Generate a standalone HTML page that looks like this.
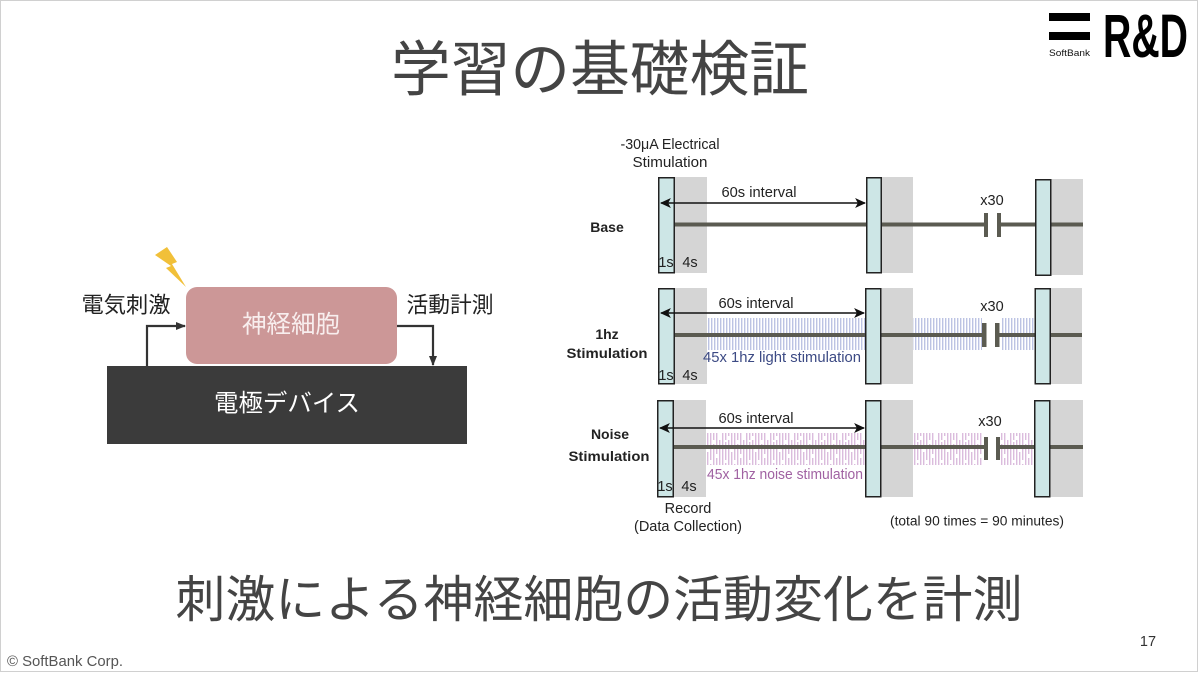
<!DOCTYPE html>
<html><head><meta charset="utf-8"><style>
html,body{margin:0;padding:0;background:#fff;}
svg{display:block;}
.jp{font-family:"Liberation Sans","Noto Sans CJK JP",sans-serif;}
.lt{font-family:"Liberation Sans",sans-serif;}
</style></head><body>
<svg width="1200" height="673" viewBox="0 0 1200 673" xmlns="http://www.w3.org/2000/svg">
<defs>
<pattern id="lp" x="0" y="0" width="3" height="40" patternUnits="userSpaceOnUse">
<rect x="0" y="0" width="1.4" height="40" fill="#bcc3e3"/>
</pattern>
<pattern id="np" x="707" y="0" width="24" height="40" patternUnits="userSpaceOnUse">
<g fill="#dbbcdd">
<rect x="0" y="0" width="1.4" height="9"/><rect x="0" y="12" width="1.4" height="28"/>
<rect x="3" y="0" width="1.4" height="20"/><rect x="3" y="24" width="1.4" height="16"/>
<rect x="6" y="4" width="1.4" height="36"/>
<rect x="9" y="0" width="1.4" height="14"/><rect x="9" y="18" width="1.4" height="10"/><rect x="9" y="31" width="1.4" height="9"/>
<rect x="12" y="0" width="1.4" height="30"/>
<rect x="15" y="0" width="1.4" height="6"/><rect x="15" y="9" width="1.4" height="31"/>
<rect x="18" y="2" width="1.4" height="18"/><rect x="18" y="23" width="1.4" height="17"/>
<rect x="21" y="0" width="1.4" height="25"/><rect x="21" y="28" width="1.4" height="8"/>
</g>
</pattern>
<marker id="ah" viewBox="0 0 10 10" refX="9" refY="5" markerWidth="11" markerHeight="11" orient="auto-start-reverse" markerUnits="userSpaceOnUse">
<path d="M0,0.5 L10,5 L0,9.5 L2.5,5 z" fill="#111"/>
</marker>
<marker id="ah2" viewBox="0 0 10 10" refX="9" refY="5" markerWidth="10" markerHeight="10" orient="auto" markerUnits="userSpaceOnUse">
<path d="M0,1 L10,5 L0,9 z" fill="#333"/>
</marker>
</defs>

<!-- frame -->
<rect x="0.5" y="0.5" width="1197" height="671" fill="none" stroke="#d0d0d0" stroke-width="1"/>

<!-- logo -->
<rect x="1049" y="13" width="41" height="8" fill="#000"/>
<rect x="1049" y="32" width="41" height="8" fill="#000"/>
<text x="1069.5" y="56" class="lt" font-size="9.5" text-anchor="middle" fill="#111" textLength="41" lengthAdjust="spacingAndGlyphs">SoftBank</text>
<text x="1103" y="57" class="lt" font-size="61" font-weight="bold" fill="#000" textLength="85" lengthAdjust="spacingAndGlyphs">R&amp;D</text>

<!-- title -->
<text x="600" y="70" class="jp" font-size="60" fill="#444" text-anchor="middle" dominant-baseline="central" textLength="418" lengthAdjust="spacingAndGlyphs">学習の基礎検証</text>

<!-- subtitle -->
<text x="599" y="600" class="jp" font-size="50" fill="#444" text-anchor="middle" dominant-baseline="central" textLength="847" lengthAdjust="spacingAndGlyphs">刺激による神経細胞の活動変化を計測</text>

<!-- footer -->
<text x="7" y="666" class="lt" font-size="15" fill="#555" textLength="116" lengthAdjust="spacingAndGlyphs">© SoftBank Corp.</text>
<text x="1148" y="642" class="lt" font-size="14.5" fill="#333" text-anchor="middle" dominant-baseline="central">17</text>

<!-- left diagram -->
<rect x="107" y="366" width="360" height="78" fill="#3b3b3b"/>
<text x="287" y="404" class="jp" font-size="24.5" fill="#fff" text-anchor="middle" dominant-baseline="central" textLength="146" lengthAdjust="spacingAndGlyphs">電極デバイス</text>
<rect x="186" y="287" width="211" height="77" rx="11" fill="#cc9797"/>
<text x="291" y="325" class="jp" font-size="24.5" fill="#f8eeee" text-anchor="middle" dominant-baseline="central" textLength="98" lengthAdjust="spacingAndGlyphs">神経細胞</text>
<text x="126" y="305" class="jp" font-size="22" fill="#222" text-anchor="middle" dominant-baseline="central" textLength="89" lengthAdjust="spacingAndGlyphs">電気刺激</text>
<text x="450" y="305" class="jp" font-size="22" fill="#222" text-anchor="middle" dominant-baseline="central" textLength="87" lengthAdjust="spacingAndGlyphs">活動計測</text>
<polyline points="147,366 147,326 185,326" fill="none" stroke="#333" stroke-width="2.2" marker-end="url(#ah2)"/>
<polyline points="397,326 433,326 433,365" fill="none" stroke="#333" stroke-width="2.2" marker-end="url(#ah2)"/>
<polygon points="155,255 167,247 177,262 172,264 186,287 166,268 171,266" fill="#f1c039"/>

<!-- ===== Right diagram ===== -->
<g class="lt" fill="#222">
<text x="670" y="145" font-size="14.5" text-anchor="middle" dominant-baseline="central" textLength="99" lengthAdjust="spacingAndGlyphs">-30μA Electrical</text>
<text x="670" y="163" font-size="14.5" text-anchor="middle" dominant-baseline="central" textLength="75" lengthAdjust="spacingAndGlyphs">Stimulation</text>
</g>

<!-- Row 1 Base -->
<rect x="674" y="177" width="33" height="96" fill="#d5d5d5"/>
<rect x="881" y="177" width="32" height="96" fill="#d5d5d5"/>
<rect x="1051" y="179" width="32" height="96" fill="#d5d5d5"/>
<line x1="658" y1="224.5" x2="986" y2="224.5" stroke="#5b5b51" stroke-width="4"/>
<line x1="999" y1="224.5" x2="1083" y2="224.5" stroke="#5b5b51" stroke-width="4"/>
<rect x="984" y="213" width="4" height="24" fill="#5b5b51"/>
<rect x="997" y="213" width="4" height="24" fill="#5b5b51"/>
<rect x="658.75" y="177.75" width="15.5" height="95" fill="#cde6e6" stroke="#222" stroke-width="1.5"/>
<rect x="866.75" y="177.75" width="14.5" height="95" fill="#cde6e6" stroke="#222" stroke-width="1.5"/>
<rect x="1035.75" y="179.75" width="15" height="95.5" fill="#cde6e6" stroke="#222" stroke-width="1.5"/>
<line x1="661" y1="203" x2="865" y2="203" stroke="#111" stroke-width="1.6" marker-start="url(#ah)" marker-end="url(#ah)"/>
<g class="lt" fill="#222" font-size="14.5">
<text x="759" y="193" text-anchor="middle" dominant-baseline="central" textLength="75" lengthAdjust="spacingAndGlyphs">60s interval</text>
<text x="992" y="201" text-anchor="middle" dominant-baseline="central">x30</text>
<text x="666" y="263" text-anchor="middle" dominant-baseline="central">1s</text>
<text x="690" y="263" text-anchor="middle" dominant-baseline="central">4s</text>
<text x="607" y="227" text-anchor="middle" dominant-baseline="central" font-weight="bold" font-size="14">Base</text>
</g>

<!-- Row 2 1hz -->
<rect x="674" y="288" width="33" height="96" fill="#d5d5d5"/>
<rect x="881" y="288" width="32" height="96" fill="#d5d5d5"/>
<rect x="1050" y="288" width="32" height="96" fill="#d5d5d5"/>
<rect x="707" y="318" width="159" height="32" fill="url(#lp)"/>
<rect x="913" y="318" width="69" height="32" fill="url(#lp)"/>
<rect x="1001" y="318" width="34" height="32" fill="url(#lp)"/>
<line x1="658" y1="335" x2="985" y2="335" stroke="#5b5b51" stroke-width="4"/>
<line x1="997" y1="335" x2="1082" y2="335" stroke="#5b5b51" stroke-width="4"/>
<rect x="982" y="323" width="4.5" height="24" fill="#5b5b51"/>
<rect x="995" y="323" width="4.5" height="24" fill="#5b5b51"/>
<rect x="658.75" y="288.75" width="15.5" height="95" fill="#cde6e6" stroke="#222" stroke-width="1.5"/>
<rect x="865.75" y="288.75" width="15" height="95" fill="#cde6e6" stroke="#222" stroke-width="1.5"/>
<rect x="1035.25" y="288.75" width="15" height="95" fill="#cde6e6" stroke="#222" stroke-width="1.5"/>
<line x1="661" y1="313" x2="864" y2="313" stroke="#111" stroke-width="1.6" marker-start="url(#ah)" marker-end="url(#ah)"/>
<g class="lt" fill="#222" font-size="14.5">
<text x="756" y="304" text-anchor="middle" dominant-baseline="central" textLength="75" lengthAdjust="spacingAndGlyphs">60s interval</text>
<text x="992" y="307" text-anchor="middle" dominant-baseline="central">x30</text>
<text x="666" y="376" text-anchor="middle" dominant-baseline="central">1s</text>
<text x="690" y="376" text-anchor="middle" dominant-baseline="central">4s</text>
<text x="782" y="358" text-anchor="middle" dominant-baseline="central" fill="#3c4a84" textLength="158" lengthAdjust="spacingAndGlyphs">45x 1hz light stimulation</text>
<text x="607" y="334" text-anchor="middle" dominant-baseline="central" font-weight="bold" font-size="14">1hz</text>
<text x="607" y="353" text-anchor="middle" dominant-baseline="central" font-weight="bold" font-size="14" textLength="81" lengthAdjust="spacingAndGlyphs">Stimulation</text>
</g>

<!-- Row 3 Noise -->
<rect x="673" y="400" width="33" height="97" fill="#d5d5d5"/>
<rect x="881" y="400" width="32" height="97" fill="#d5d5d5"/>
<rect x="1050" y="400" width="33" height="97" fill="#d5d5d5"/>
<rect x="707" y="433" width="159" height="32" fill="url(#np)"/>
<rect x="913" y="433" width="70" height="32" fill="url(#np)"/>
<rect x="1001" y="433" width="34" height="32" fill="url(#np)"/>
<line x1="657" y1="447" x2="986" y2="447" stroke="#5b5b51" stroke-width="4"/>
<line x1="998" y1="447" x2="1083" y2="447" stroke="#5b5b51" stroke-width="4"/>
<rect x="984" y="437" width="4" height="23" fill="#5b5b51"/>
<rect x="996" y="437" width="4" height="23" fill="#5b5b51"/>
<rect x="657.75" y="400.75" width="15.5" height="96" fill="#cde6e6" stroke="#222" stroke-width="1.5"/>
<rect x="865.75" y="400.75" width="15" height="96" fill="#cde6e6" stroke="#222" stroke-width="1.5"/>
<rect x="1034.75" y="400.75" width="15" height="96" fill="#cde6e6" stroke="#222" stroke-width="1.5"/>
<line x1="660" y1="428" x2="864" y2="428" stroke="#111" stroke-width="1.6" marker-start="url(#ah)" marker-end="url(#ah)"/>
<g class="lt" fill="#222" font-size="14.5">
<text x="756" y="419" text-anchor="middle" dominant-baseline="central" textLength="75" lengthAdjust="spacingAndGlyphs">60s interval</text>
<text x="990" y="422" text-anchor="middle" dominant-baseline="central">x30</text>
<text x="665" y="487" text-anchor="middle" dominant-baseline="central">1s</text>
<text x="689" y="487" text-anchor="middle" dominant-baseline="central">4s</text>
<text x="785" y="475" text-anchor="middle" dominant-baseline="central" fill="#a062a2" textLength="156" lengthAdjust="spacingAndGlyphs">45x 1hz noise stimulation</text>
<text x="610" y="434" text-anchor="middle" dominant-baseline="central" font-weight="bold" font-size="14">Noise</text>
<text x="609" y="456" text-anchor="middle" dominant-baseline="central" font-weight="bold" font-size="14" textLength="81" lengthAdjust="spacingAndGlyphs">Stimulation</text>
<text x="688" y="509" text-anchor="middle" dominant-baseline="central">Record</text>
<text x="688" y="527" text-anchor="middle" dominant-baseline="central" textLength="108" lengthAdjust="spacingAndGlyphs">(Data Collection)</text>
<text x="977" y="521" text-anchor="middle" dominant-baseline="central" font-size="13.5" textLength="174" lengthAdjust="spacingAndGlyphs">(total 90 times = 90 minutes)</text>
</g>
</svg>
</body></html>
